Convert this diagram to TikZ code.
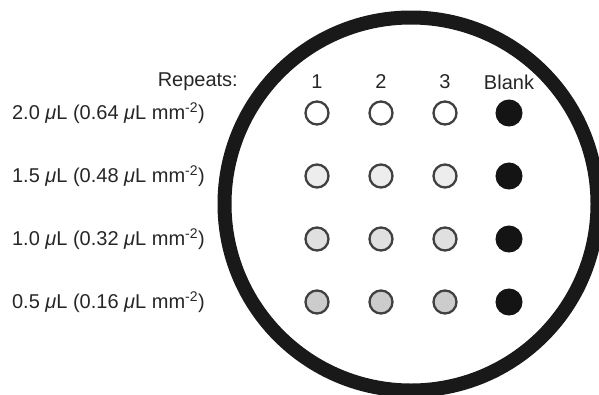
\documentclass[tikz,border=0pt]{standalone}
\usepackage{fontspec}
\setmainfont{Liberation Sans}
\begin{document}
\begin{tikzpicture}[x=1pt,y=-1pt,
  lbl/.style={inner sep=0pt,text=black!85,font=\fontsize{20}{22}\selectfont},
  well/.style={circle,draw=black!75,line width=2.3pt,minimum size=23pt,inner sep=0pt},
  blankwell/.style={circle,fill=black!92,draw=black!92,line width=1pt,minimum size=26pt,inner sep=0pt}]
\useasboundingbox (0,0) rectangle (599,394);
\begin{scope}
\clip (0,0) rectangle (599,394);
\draw[line width=14pt,black!90] (411,204) circle (186.5);
\end{scope}
% headers
\node[lbl,anchor=east] (rep) at (238,82) {Repeats:};
\node[lbl] (h1) at (317,82) {1};
\node[lbl] (h2) at (381,82) {2};
\node[lbl] (h3) at (445,82) {3};
\node[lbl] (hb) at (509,82) {Blank};
% row labels
\node[lbl,anchor=east] (l1) at (205,113) {2.0 {\itshape μ}L (0.64 {\itshape μ}L mm\textsuperscript{-2})};
\node[lbl,anchor=east] (l2) at (205,176) {1.5 {\itshape μ}L (0.48 {\itshape μ}L mm\textsuperscript{-2})};
\node[lbl,anchor=east] (l3) at (205,239) {1.0 {\itshape μ}L (0.32 {\itshape μ}L mm\textsuperscript{-2})};
\node[lbl,anchor=east] (l4) at (205,302) {0.5 {\itshape μ}L (0.16 {\itshape μ}L mm\textsuperscript{-2})};
% wells
\foreach \r/\y/\c in {1/113/white,2/176/black!7,3/239/black!12,4/302/black!20}{
  \foreach \k/\x in {1/317,2/381,3/445}{
    \node[well,fill=\c] (w\r\k) at (\x,\y) {};
  }
  \node[blankwell] (b\r) at (509,\y) {};
}
\end{tikzpicture}
\end{document}
